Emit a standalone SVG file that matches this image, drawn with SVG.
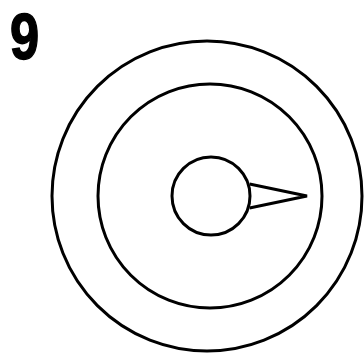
<svg xmlns="http://www.w3.org/2000/svg" width="364" height="355" viewBox="0 0 364 355">
<style>
.ring{fill:none;stroke:#000;stroke-width:3}
.label{font-family:"Liberation Sans",Arial,sans-serif;font-weight:bold;font-size:64px;fill:#000;stroke:#000;stroke-width:1.5}
</style>
<rect width="364" height="355" fill="#fff"/>
<text class="label" transform="translate(10,59) scale(0.82,1)" x="0" y="0">9</text>
<g id="outer"><circle class="ring" cx="207" cy="196" r="155"/></g>
<g id="middle"><circle class="ring" cx="210" cy="196" r="112"/></g>
<g id="pointer"><path class="ring" d="M249.5,184 L307,196 L249.5,208" stroke-linejoin="miter"/></g>
<g id="inner"><circle class="ring" cx="211" cy="196" r="39"/></g>
</svg>
